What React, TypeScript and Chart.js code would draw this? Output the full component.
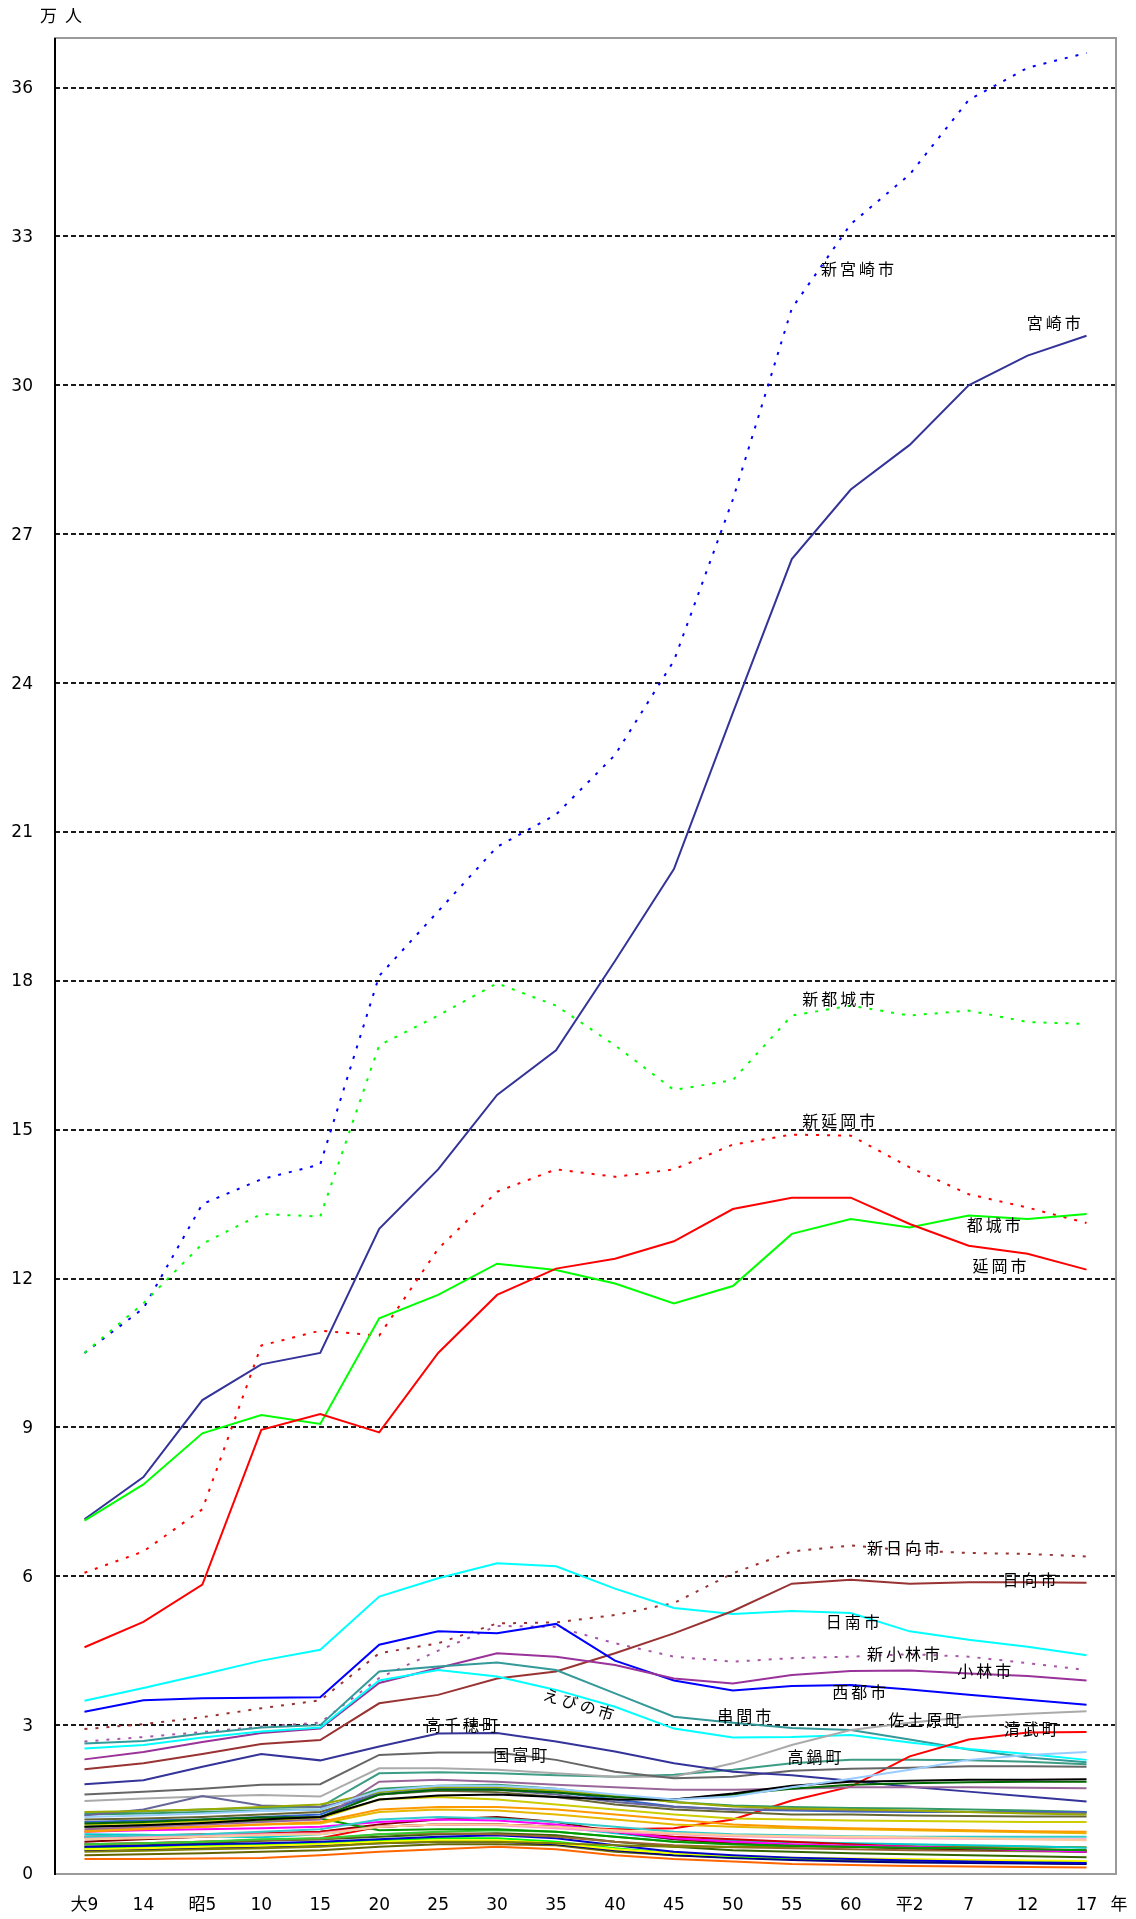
import { useEffect, useRef } from "react";
import { Chart, registerables } from "chart.js";

Chart.register(...registerables);

// ---- categories & ticks ----
const years = ["大9", "14", "昭5", "10", "15", "20", "25", "30", "35", "40", "45", "50", "55", "60", "平2", "7", "12", "17"];
const yTicks = [0, 3, 6, 9, 12, 15, 18, 21, 24, 27, 30, 33, 36];
const yMax = 37;

// ---- merged (new) cities, dotted ----
const shinMiyazaki = [10.5, 11.4, 13.5, 14.0, 14.3, 18.1, 19.4, 20.7, 21.35, 22.55, 24.45, 27.7, 31.55, 33.25, 34.25, 35.75, 36.4, 36.7];
const shinMiyakonojo = [10.5, 11.5, 12.7, 13.3, 13.25, 16.7, 17.3, 17.95, 17.5, 16.7, 15.8, 16.0, 17.3, 17.5, 17.3, 17.4, 17.17, 17.13];
const shinNobeoka = [6.07, 6.5, 7.35, 10.65, 10.95, 10.85, 12.6, 13.75, 14.2, 14.05, 14.2, 14.7, 14.9, 14.88, 14.24, 13.7, 13.43, 13.12];
const shinHyuga = [2.92, 3.02, 3.16, 3.34, 3.5, 4.45, 4.65, 5.05, 5.07, 5.22, 5.46, 6.06, 6.5, 6.62, 6.52, 6.47, 6.45, 6.4];
const shinKobayashi = [2.67, 2.76, 2.86, 2.97, 3.05, 3.95, 4.5, 5.0, 4.98, 4.65, 4.38, 4.28, 4.35, 4.38, 4.43, 4.38, 4.25, 4.11];

// ---- cities ----
const miyazaki = [7.15, 8.0, 9.55, 10.27, 10.5, 13.0, 14.2, 15.7, 16.6, 18.4, 20.25, 23.4, 26.5, 27.9, 28.8, 30.0, 30.6, 31.0];
const miyakonojo = [7.12, 7.85, 8.88, 9.25, 9.07, 11.2, 11.67, 12.3, 12.17, 11.9, 11.5, 11.85, 12.9, 13.2, 13.03, 13.27, 13.2, 13.3];
const nobeoka = [4.57, 5.08, 5.83, 8.95, 9.27, 8.9, 10.5, 11.67, 12.2, 12.4, 12.75, 13.4, 13.63, 13.63, 13.1, 12.66, 12.5, 12.18];
const nichinan = [3.49, 3.75, 4.02, 4.3, 4.52, 5.59, 5.96, 6.26, 6.2, 5.75, 5.36, 5.24, 5.3, 5.26, 4.89, 4.72, 4.58, 4.41];
const hyuga = [2.11, 2.23, 2.42, 2.62, 2.7, 3.44, 3.61, 3.94, 4.08, 4.45, 4.85, 5.3, 5.85, 5.93, 5.85, 5.88, 5.88, 5.87];
const saito = [3.27, 3.5, 3.54, 3.55, 3.56, 4.62, 4.89, 4.85, 5.04, 4.3, 3.9, 3.7, 3.79, 3.81, 3.72, 3.61, 3.51, 3.41];
const kobayashi = [2.31, 2.46, 2.66, 2.84, 2.93, 3.85, 4.15, 4.45, 4.38, 4.21, 3.94, 3.84, 4.01, 4.09, 4.1, 4.04, 3.99, 3.9];
const kushima = [2.63, 2.68, 2.83, 2.95, 3.0, 4.08, 4.18, 4.26, 4.11, 3.64, 3.17, 3.05, 2.94, 2.9, 2.71, 2.51, 2.35, 2.25];
const ebino = [2.53, 2.6, 2.75, 2.87, 2.95, 3.9, 4.11, 3.98, 3.71, 3.37, 2.93, 2.75, 2.76, 2.8, 2.65, 2.52, 2.42, 2.3];

// ---- labelled towns ----
const takachiho = [1.81, 1.89, 2.16, 2.42, 2.29, 2.57, 2.83, 2.84, 2.67, 2.47, 2.23, 2.06, 1.99, 1.88, 1.76, 1.66, 1.56, 1.46];
const kunitomi = [1.6, 1.66, 1.72, 1.8, 1.81, 2.4, 2.45, 2.45, 2.3, 2.06, 1.93, 1.96, 2.08, 2.12, 2.14, 2.17, 2.17, 2.16];
const sadowara = [1.47, 1.52, 1.56, 1.59, 1.56, 2.13, 2.13, 2.1, 2.03, 1.96, 1.96, 2.23, 2.6, 2.9, 3.05, 3.17, 3.23, 3.28];
const kiyotake = [0.6, 0.62, 0.65, 0.68, 0.72, 0.95, 1.0, 1.0, 0.95, 0.9, 0.92, 1.1, 1.48, 1.76, 2.37, 2.71, 2.85, 2.86];
const takanabe = [1.22, 1.26, 1.3, 1.33, 1.35, 2.03, 2.05, 2.03, 1.99, 1.96, 2.0, 2.1, 2.23, 2.3, 2.3, 2.29, 2.26, 2.21];

// ---- other towns & villages (unlabelled) ----
const mimata = [1.15, 1.18, 1.22, 1.27, 1.3, 1.68, 1.78, 1.78, 1.72, 1.6, 1.5, 1.56, 1.75, 1.92, 2.1, 2.3, 2.4, 2.46];
const kadogawa = [0.95, 0.98, 1.03, 1.1, 1.15, 1.5, 1.58, 1.6, 1.55, 1.5, 1.5, 1.62, 1.78, 1.86, 1.88, 1.9, 1.9, 1.91];
const shintomi = [1.02, 1.05, 1.1, 1.14, 1.15, 1.6, 1.7, 1.7, 1.64, 1.55, 1.5, 1.6, 1.72, 1.8, 1.83, 1.85, 1.86, 1.86];
const kawaminami = [0.9, 0.95, 1.0, 1.05, 1.1, 1.86, 1.9, 1.86, 1.8, 1.75, 1.7, 1.7, 1.72, 1.75, 1.75, 1.75, 1.74, 1.73];
const tsuno = [1.25, 1.27, 1.3, 1.35, 1.4, 1.65, 1.75, 1.75, 1.68, 1.58, 1.45, 1.36, 1.32, 1.3, 1.28, 1.25, 1.22, 1.2];
const takaharu = [1.18, 1.3, 1.57, 1.38, 1.35, 1.6, 1.7, 1.7, 1.6, 1.45, 1.35, 1.3, 1.3, 1.28, 1.27, 1.25, 1.24, 1.23];
const tano = [1.05, 1.08, 1.1, 1.15, 1.2, 1.65, 1.72, 1.72, 1.65, 1.5, 1.36, 1.3, 1.28, 1.26, 1.25, 1.25, 1.25, 1.25];
const takaoka = [1.2, 1.22, 1.25, 1.28, 1.3, 1.72, 1.78, 1.8, 1.72, 1.58, 1.45, 1.38, 1.35, 1.33, 1.32, 1.3, 1.28, 1.25];
const takajo = [1.1, 1.12, 1.15, 1.2, 1.25, 1.6, 1.68, 1.65, 1.55, 1.4, 1.3, 1.25, 1.2, 1.2, 1.18, 1.17, 1.16, 1.16];
const takazaki = [1.0, 1.03, 1.07, 1.1, 1.12, 1.5, 1.55, 1.5, 1.4, 1.3, 1.2, 1.12, 1.1, 1.08, 1.07, 1.06, 1.05, 1.05];
const nangoTown = [0.85, 0.9, 0.95, 1.0, 1.05, 1.3, 1.35, 1.35, 1.3, 1.2, 1.1, 1.0, 0.95, 0.92, 0.9, 0.88, 0.86, 0.85];
const nojiri = [0.88, 0.92, 0.95, 1.0, 1.02, 1.25, 1.3, 1.28, 1.2, 1.1, 1.0, 0.95, 0.92, 0.9, 0.88, 0.86, 0.84, 0.82];
const yamanokuchi = [0.7, 0.72, 0.75, 0.78, 0.8, 0.95, 1.0, 1.0, 0.95, 0.88, 0.82, 0.78, 0.76, 0.75, 0.74, 0.72, 0.7, 0.68];
const aya = [0.75, 0.78, 0.8, 0.85, 0.9, 1.1, 1.15, 1.12, 1.05, 0.95, 0.85, 0.8, 0.78, 0.76, 0.75, 0.75, 0.75, 0.75];
const yamada = [0.72, 0.75, 0.78, 0.8, 0.82, 0.95, 1.0, 0.98, 0.92, 0.85, 0.8, 0.76, 0.74, 0.72, 0.72, 0.71, 0.7, 0.7];
const kitakata = [0.95, 0.98, 1.02, 1.08, 1.12, 0.88, 0.9, 0.9, 0.85, 0.75, 0.65, 0.6, 0.57, 0.55, 0.53, 0.52, 0.5, 0.48];
const kitagawa = [0.85, 0.88, 0.9, 0.92, 0.95, 1.05, 1.1, 1.08, 1.0, 0.85, 0.72, 0.65, 0.6, 0.57, 0.55, 0.52, 0.48, 0.45];
const kitaura = [0.75, 0.77, 0.8, 0.82, 0.85, 0.95, 1.0, 1.0, 0.95, 0.85, 0.75, 0.7, 0.65, 0.6, 0.55, 0.52, 0.5, 0.48];
const hinokage = [0.65, 0.7, 0.75, 0.8, 0.85, 1.0, 1.1, 1.15, 1.05, 0.85, 0.7, 0.62, 0.57, 0.55, 0.52, 0.5, 0.48, 0.45];
const gokase = [0.6, 0.62, 0.65, 0.7, 0.72, 0.8, 0.85, 0.88, 0.85, 0.75, 0.65, 0.6, 0.57, 0.55, 0.52, 0.5, 0.47, 0.45];
const togo = [0.8, 0.79, 0.76, 0.74, 0.8, 0.95, 1.0, 1.0, 0.95, 0.82, 0.7, 0.68, 0.64, 0.62, 0.6, 0.58, 0.56, 0.53];
const kijo = [0.45, 0.47, 0.5, 0.52, 0.55, 0.62, 0.65, 0.65, 0.62, 0.58, 0.55, 0.55, 0.55, 0.56, 0.56, 0.55, 0.55, 0.54];
const kitagoTown = [0.6, 0.62, 0.65, 0.68, 0.7, 0.8, 0.82, 0.8, 0.75, 0.65, 0.58, 0.54, 0.52, 0.5, 0.48, 0.47, 0.46, 0.45];
const morotsuka = [0.55, 0.57, 0.6, 0.62, 0.65, 0.7, 0.75, 0.78, 0.72, 0.58, 0.45, 0.38, 0.33, 0.3, 0.27, 0.25, 0.23, 0.22];
const shiiba = [0.55, 0.58, 0.62, 0.67, 0.7, 0.75, 0.8, 0.82, 0.78, 0.65, 0.55, 0.48, 0.45, 0.42, 0.4, 0.38, 0.36, 0.34];
const saigo = [0.5, 0.52, 0.55, 0.57, 0.6, 0.65, 0.68, 0.68, 0.62, 0.5, 0.42, 0.37, 0.33, 0.31, 0.3, 0.28, 0.27, 0.26];
const nangoVillage = [0.52, 0.55, 0.58, 0.6, 0.62, 0.68, 0.72, 0.72, 0.65, 0.52, 0.42, 0.36, 0.32, 0.3, 0.28, 0.27, 0.25, 0.25];
const kitagoVillage = [0.48, 0.5, 0.52, 0.55, 0.58, 0.62, 0.65, 0.65, 0.6, 0.48, 0.38, 0.32, 0.28, 0.25, 0.23, 0.22, 0.21, 0.2];
const suki = [0.38, 0.4, 0.42, 0.45, 0.48, 0.55, 0.6, 0.6, 0.58, 0.45, 0.38, 0.33, 0.3, 0.28, 0.25, 0.23, 0.22, 0.2];
const nishimera = [0.3, 0.3, 0.31, 0.32, 0.38, 0.45, 0.5, 0.55, 0.5, 0.38, 0.3, 0.25, 0.2, 0.18, 0.16, 0.15, 0.14, 0.13];

type Series = { label: string; data: number[]; color: string; dotted?: boolean };

const series: Series[] = [
  { label: "三股町", data: mimata, color: "#99ccff" },
  { label: "門川町", data: kadogawa, color: "#000000" },
  { label: "新富町", data: shintomi, color: "#006600" },
  { label: "川南町", data: kawaminami, color: "#996699" },
  { label: "都農町", data: tsuno, color: "#99aa00" },
  { label: "高原町", data: takaharu, color: "#666699" },
  { label: "田野町", data: tano, color: "#3366cc" },
  { label: "高岡町", data: takaoka, color: "#339966" },
  { label: "高城町", data: takajo, color: "#666633" },
  { label: "高崎町", data: takazaki, color: "#cccc00" },
  { label: "南郷町", data: nangoTown, color: "#ff9900" },
  { label: "野尻町", data: nojiri, color: "#e6b800" },
  { label: "山之口町", data: yamanokuchi, color: "#ffcc99" },
  { label: "綾町", data: aya, color: "#33cccc" },
  { label: "山田町", data: yamada, color: "#ff99cc" },
  { label: "北方町", data: kitakata, color: "#009900" },
  { label: "北川町", data: kitagawa, color: "#ff00ff" },
  { label: "北浦町", data: kitaura, color: "#cc0000" },
  { label: "日之影町", data: hinokage, color: "#800000" },
  { label: "五ヶ瀬町", data: gokase, color: "#33cc33" },
  { label: "東郷町", data: togo, color: "#00cccc" },
  { label: "木城町", data: kijo, color: "#808000" },
  { label: "北郷町", data: kitagoTown, color: "#996633" },
  { label: "諸塚村", data: morotsuka, color: "#0000cc" },
  { label: "椎葉村", data: shiiba, color: "#336600" },
  { label: "西郷村", data: saigo, color: "#ffff00" },
  { label: "南郷村", data: nangoVillage, color: "#00ff00" },
  { label: "北郷村", data: kitagoVillage, color: "#000080" },
  { label: "須木村", data: suki, color: "#666600" },
  { label: "西米良村", data: nishimera, color: "#ff6600" },
  { label: "高千穂町", data: takachiho, color: "#333399" },
  { label: "国富町", data: kunitomi, color: "#666666" },
  { label: "佐土原町", data: sadowara, color: "#aaaaaa" },
  { label: "清武町", data: kiyotake, color: "#ff0000" },
  { label: "高鍋町", data: takanabe, color: "#3c9c84" },
  { label: "えびの市", data: ebino, color: "#00ffff" },
  { label: "串間市", data: kushima, color: "#339999" },
  { label: "小林市", data: kobayashi, color: "#993399" },
  { label: "西都市", data: saito, color: "#0000ff" },
  { label: "日向市", data: hyuga, color: "#993333" },
  { label: "日南市", data: nichinan, color: "#00ffff" },
  { label: "延岡市", data: nobeoka, color: "#ff0000" },
  { label: "都城市", data: miyakonojo, color: "#00ff00" },
  { label: "宮崎市", data: miyazaki, color: "#333399" },
  { label: "新小林市", data: shinKobayashi, color: "#aa55aa", dotted: true },
  { label: "新日向市", data: shinHyuga, color: "#993333", dotted: true },
  { label: "新延岡市", data: shinNobeoka, color: "#ff0000", dotted: true },
  { label: "新都城市", data: shinMiyakonojo, color: "#00ff00", dotted: true },
  { label: "新宮崎市", data: shinMiyazaki, color: "#0000ff", dotted: true },
];

// in-plot name labels: anchored at (category index, value)
const nameLabels = [
  { text: "新宮崎市", at: 13.14, value: 32.34, angle: 0 },
  { text: "宮崎市", at: 16.47, value: 31.25, angle: 0 },
  { text: "新都城市", at: 12.82, value: 17.64, angle: 0 },
  { text: "新延岡市", at: 12.82, value: 15.18, angle: 0 },
  { text: "都城市", at: 15.45, value: 13.08, angle: 0 },
  { text: "延岡市", at: 15.55, value: 12.26, angle: 0 },
  { text: "新日向市", at: 13.92, value: 6.57, angle: 0 },
  { text: "日向市", at: 16.06, value: 5.93, angle: 0 },
  { text: "日南市", at: 13.06, value: 5.08, angle: 0 },
  { text: "新小林市", at: 13.92, value: 4.44, angle: 0 },
  { text: "小林市", at: 15.29, value: 4.09, angle: 0 },
  { text: "西都市", at: 13.17, value: 3.67, angle: 0 },
  { text: "佐土原町", at: 14.28, value: 3.1, angle: 0 },
  { text: "清武町", at: 16.08, value: 2.92, angle: 0 },
  { text: "高鍋町", at: 12.41, value: 2.36, angle: 0 },
  { text: "串間市", at: 11.22, value: 3.19, angle: 0 },
  { text: "国富町", at: 7.42, value: 2.4, angle: 0 },
  { text: "高千穂町", at: 6.42, value: 3.0, angle: 0 },
  { text: "えびの市", at: 8.41, value: 3.41, angle: 17 },
];

const NUM_FONT = '17px "DejaVu Sans", "Noto Sans CJK JP", sans-serif';
const NAME_FONT = '16px "Noto Sans CJK JP", sans-serif';

const framePlugin = {
  id: "frame",
  beforeDatasetsDraw(chart: any) {
    const { ctx, chartArea: a, scales } = chart;
    const y = scales.y;
    ctx.save();
    ctx.strokeStyle = "#1a1a1a";
    ctx.lineWidth = 2;
    ctx.setLineDash([5, 3]);
    for (const v of yTicks) {
      if (v === 0) continue;
      const py = Math.round(y.getPixelForValue(v));
      ctx.beginPath();
      ctx.moveTo(a.left, py);
      ctx.lineTo(a.right, py);
      ctx.stroke();
    }
    ctx.setLineDash([]);
    ctx.strokeStyle = "#9a9a9a";
    ctx.lineWidth = 2;
    ctx.strokeRect(a.left, a.top, a.right - a.left, a.bottom - a.top);
    ctx.strokeStyle = "#000000";
    ctx.beginPath();
    ctx.moveTo(a.left, a.top);
    ctx.lineTo(a.left, a.bottom + 1);
    ctx.stroke();
    ctx.restore();
  },
  afterDatasetsDraw(chart: any) {
    const { ctx, chartArea: a, scales } = chart;
    const x = scales.x;
    const y = scales.y;
    ctx.save();
    ctx.fillStyle = "#000000";
    // y tick labels
    ctx.font = NUM_FONT;
    ctx.textAlign = "right";
    ctx.textBaseline = "middle";
    for (const v of yTicks) {
      ctx.fillText(String(v), a.left - 22, y.getPixelForValue(v) + 1);
    }
    // x tick labels
    ctx.textAlign = "center";
    years.forEach((lab, i) => {
      ctx.fillText(lab, x.getPixelForValue(i), a.bottom + 32);
    });
    ctx.fillText("年", a.right + 3, a.bottom + 32);
    // unit
    ctx.textAlign = "left";
    (ctx as any).letterSpacing = "8px";
    ctx.fillText("万人", 40, a.top - 20);
    // name labels
    ctx.font = NAME_FONT;
    (ctx as any).letterSpacing = "3px";
    ctx.textAlign = "center";
    for (const l of nameLabels) {
      const px = x.getPixelForValue(l.at);
      const py = y.getPixelForValue(l.value);
      ctx.save();
      ctx.translate(px, py);
      if (l.angle) ctx.rotate((l.angle * Math.PI) / 180);
      ctx.fillText(l.text, 0, 0);
      ctx.restore();
    }
    ctx.restore();
  },
};

export default function App() {
  const ref = useRef<HTMLCanvasElement>(null);
  useEffect(() => {
    if (!ref.current) return;
    const chart = new Chart(ref.current, {
      type: "line",
      data: {
        labels: years,
        datasets: series.map((s) => ({
          label: s.label,
          data: s.data,
          borderColor: s.color,
          backgroundColor: s.color,
          borderWidth: 2,
          borderDash: s.dotted ? [3, 8] : [],
          pointRadius: 0,
          tension: 0,
          fill: false,
        })),
      },
      options: {
        animation: false,
        responsive: false,
        maintainAspectRatio: false,
        devicePixelRatio: 1,
        layout: { padding: { top: 38, right: 20, left: 0, bottom: 0 } },
        plugins: { legend: { display: false }, tooltip: { enabled: false } },
        events: [],
        scales: {
          x: {
            type: "category",
            offset: true,
            grid: { display: false },
            border: { display: false },
            ticks: { display: false },
            afterFit: (s: any) => {
              s.height = 45;
            },
          },
          y: {
            min: 0,
            max: yMax,
            grid: { display: false },
            border: { display: false },
            ticks: { display: false, stepSize: 3 },
            afterFit: (s: any) => {
              s.width = 55;
            },
          },
        },
      },
      plugins: [framePlugin],
    });
    return () => chart.destroy();
  }, []);
  return (
    <div style={{ position: "absolute", left: 0, top: 0, width: 1136, height: 1919, background: "#ffffff", overflow: "hidden" }}>
      <canvas ref={ref} width={1136} height={1919} style={{ width: 1136, height: 1919, display: "block" }} />
    </div>
  );
}
